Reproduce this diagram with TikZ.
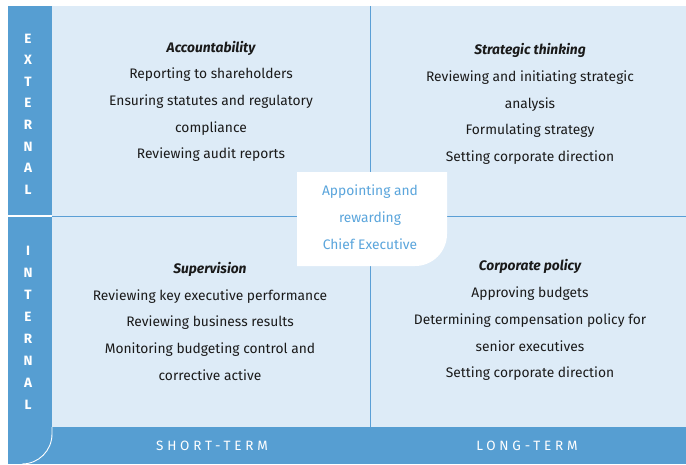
\documentclass[tikz,border=0pt]{standalone}
\usepackage{fontspec}
\setmainfont{Fira Sans}
\definecolor{barblue}{HTML}{569ED2}
\definecolor{paleblue}{HTML}{DDEBF7}
\definecolor{lineblue}{HTML}{5A9FD6}
\definecolor{centreblue}{HTML}{5AA5DC}
\definecolor{ink}{HTML}{1A1A1A}
\tikzset{
  body/.style={font=\fontsize{13.8}{15}\selectfont, text=ink, inner sep=0pt, anchor=base, yshift=-5pt},
  head/.style={body, font=\fontsize{13.8}{15}\selectfont\bfseries\itshape},
  sideletter/.style={font=\fontsize{13.5}{15}\selectfont\bfseries, text=white, inner sep=0pt, anchor=base, yshift=-5pt},
  axislabel/.style={font=\fontsize{13.5}{15}\selectfont\addfontfeature{LetterSpace=28}, text=white, inner sep=0pt, anchor=base, yshift=-5pt},
  centretext/.style={font=\fontsize{13.8}{15}\selectfont, text=centreblue, inner sep=0pt, anchor=base, yshift=-5pt}
}
\begin{document}
\begin{tikzpicture}[x=1pt,y=-1pt]
\useasboundingbox (0,0) rectangle (686,464);
% backgrounds
\fill[paleblue] (8,6) rectangle (686,464);
\fill[barblue] (8,6) rectangle (52,464);
\fill[barblue] (8,427) rectangle (686,464);
% dividers
\draw[lineblue, line width=0.8pt] (52,216) -- (686,216);
\draw[lineblue, line width=0.8pt] (370,6) -- (370,427);
\draw[white, line width=1.2pt] (8,216) -- (52,216);
\draw[white, line width=0.9pt] (52,427) -- (52,434) arc[start angle=0, end angle=90, radius=30];
% centre box
\fill[white] (297,172) -- (447,172) -- (447,234) arc[start angle=0, end angle=90, radius=32] -- (297,266) -- cycle;
\node[centretext] (c1) at (370,190) {Appointing and};
\node[centretext] (c2) at (370,217) {rewarding};
\node[centretext] (c3) at (370,244) {Chief Executive};
% top-left
\node[head] (tl0) at (211,47) {Accountability};
\node[body] (tl1) at (211,73) {Reporting to shareholders};
\node[body] (tl2) at (211,100) {Ensuring statutes and regulatory};
\node[body] (tl3) at (211,127) {compliance};
\node[body] (tl4) at (211,153) {Reviewing audit reports};
% top-right
\node[head] (tr0) at (530,49) {Strategic thinking};
\node[body] (tr1) at (530,76) {Reviewing and initiating strategic};
\node[body] (tr2) at (530,103) {analysis};
\node[body] (tr3) at (530,129) {Formulating strategy};
\node[body] (tr4) at (530,156) {Setting corporate direction};
% bottom-left
\node[head] (bl0) at (210,268) {Supervision};
\node[body] (bl1) at (210,295) {Reviewing key executive performance};
\node[body] (bl2) at (210,321) {Reviewing business results};
\node[body] (bl3) at (210,348) {Monitoring budgeting control and};
\node[body] (bl4) at (210,375) {corrective active};
% bottom-right
\node[head] (br0) at (530,265) {Corporate policy};
\node[body] (br1) at (530,292) {Approving budgets};
\node[body] (br2) at (530,319) {Determining compensation policy for};
\node[body] (br3) at (530,346) {senior executives};
\node[body] (br4) at (530,372) {Setting corporate direction};
% side letters
\foreach \l [count=\i from 0] in {E,X,T,E,R,N,A,L}
  \node[sideletter] (ext\i) at (28,{38+21.6*\i}) {\l};
\foreach \l [count=\i from 0] in {I,N,T,E,R,N,A,L}
  \node[sideletter] (int\i) at (28,{250+22.1*\i}) {\l};
% axis labels
\node[axislabel] (st) at (212,445) {SHORT-TERM};
\node[axislabel] (lt) at (527,445) {LONG-TERM};
\end{tikzpicture}
\end{document}
